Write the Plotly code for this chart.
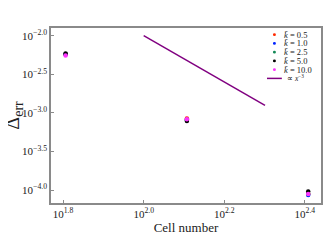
import plotly.graph_objects as go

cells = [64, 128, 256]
kbar_labels = ["0.5", "1.0", "2.5", "5.0", "10.0"]
colors = ["#ff2a00", "#0022ff", "#118855", "#000000", "#ff33ff"]
log_err = {
    "0.5": [-2.24, -3.072, -4.05],
    "1.0": [-2.24, -3.09, -4.065],
    "2.5": [-2.24, -3.09, -4.05],
    "5.0": [-2.232, -3.105, -4.02],
    "10.0": [-2.256, -3.082, -4.052],
}
ref_x = [100, 200]
ref_y0 = 1e-2

xtick_exp = [1.8, 2.0, 2.2, 2.4]
ytick_exp = [-2.0, -2.5, -3.0, -3.5, -4.0]

FONT = "Liberation Serif"
GRAY = "#8a8a8a"

fig = go.Figure()
for lab, col in zip(kbar_labels, colors):
    fig.add_trace(go.Scatter(
        x=cells, y=[10 ** v for v in log_err[lab]], mode="markers",
        marker=dict(color=col, size=4.5), showlegend=False))

ry = [ref_y0 * (x / ref_x[0]) ** -3 for x in ref_x]
fig.add_trace(go.Scatter(x=ref_x, y=ry, mode="lines",
                         line=dict(color="#800080", width=1.5), showlegend=False))

# custom legend (compact rows)
shapes = []
annotations = []
row_y = [0.962, 0.912, 0.862, 0.812, 0.762]
for lab, col, yy in zip(kbar_labels, colors, row_y):
    shapes.append(dict(type="circle", xref="paper", yref="paper",
                       x0=0.822, x1=0.833, y0=yy - 0.008, y1=yy + 0.008,
                       fillcolor=col, line=dict(width=0)))
    annotations.append(dict(xref="paper", yref="paper", x=0.855, y=yy,
                            xanchor="left", yanchor="middle", showarrow=False,
                            text="<i>k̄</i> = " + lab,
                            font=dict(family=FONT, size=8.5, color="#222")))
shapes.append(dict(type="line", xref="paper", yref="paper",
                   x0=0.80, x1=0.855, y0=0.712, y1=0.712,
                   line=dict(color="#800080", width=1.5)))
annotations.append(dict(xref="paper", yref="paper", x=0.865, y=0.712,
                        xanchor="left", yanchor="middle", showarrow=False,
                        text="∝ <i>x</i><sup>−3</sup>",
                        font=dict(family=FONT, size=7.5, color="#222")))

# y-axis title as an annotation so it can sit left of the tick labels
annotations.append(dict(xref="paper", yref="paper", x=-0.19, y=0.5,
                        xanchor="left", yanchor="middle", showarrow=False,
                        textangle=-90, text="Δ<sub>err</sub>", borderpad=0,
                        font=dict(family=FONT, size=20, color="#222")))

# page body adds an 8px offset; compensate in the margins
fig.update_layout(
    width=324, height=241,
    margin=dict(l=43, r=11, t=20, b=46),
    paper_bgcolor="white", plot_bgcolor="white",
    font=dict(family=FONT, size=11, color="#222"),
    shapes=shapes, annotations=annotations,
    xaxis=dict(type="log", range=[1.77, 2.44], automargin=False,
               tickvals=[10 ** e for e in xtick_exp],
               ticktext=["10<sup>%.1f</sup>" % e for e in xtick_exp],
               ticks="inside", ticklen=3, tickcolor=GRAY,
               showline=True, linecolor=GRAY, linewidth=1.5, mirror=True,
               showgrid=False, zeroline=False,
               tickfont=dict(family=FONT, size=11),
               title=dict(text="Cell number", font=dict(family=FONT, size=13), standoff=4)),
    yaxis=dict(type="log", range=[-4.168, -1.90], automargin=False,
               tickvals=[10 ** e for e in ytick_exp],
               ticktext=["10<sup>−%.1f</sup>" % -e for e in ytick_exp],
               ticks="inside", ticklen=3, tickcolor=GRAY,
               showline=True, linecolor=GRAY, linewidth=1.5, mirror=True,
               showgrid=False, zeroline=False,
               tickfont=dict(family=FONT, size=11)),
)

fig.write_html("out.html")
